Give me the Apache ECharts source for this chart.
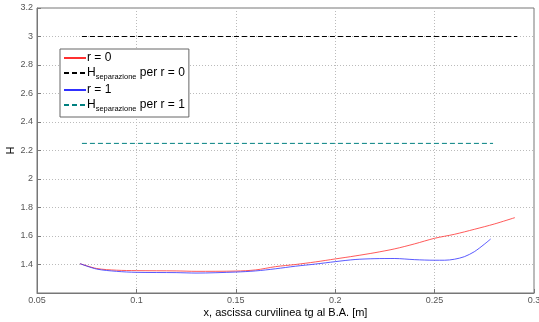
<!DOCTYPE html>
<html><head><meta charset="utf-8">
<script src="https://cdn.jsdelivr.net/npm/echarts@6/dist/echarts.min.js"></script>
<style>html,body{margin:0;padding:0;background:#fff}#c{width:539px;height:322px}</style>
</head><body><div id="c"></div>
<script>
// Data
const r0X = [0.0716,0.08,0.09,0.10,0.12,0.13,0.15,0.16,0.17,0.18,0.19,0.20,0.21,0.22,0.23,0.24,0.25,0.26,0.27,0.28,0.2904];
const r0Y = [1.406,1.372,1.360,1.357,1.355,1.352,1.354,1.362,1.385,1.400,1.418,1.439,1.460,1.483,1.510,1.545,1.584,1.612,1.647,1.684,1.729];
const r1X = [0.0716,0.08,0.09,0.10,0.12,0.13,0.15,0.16,0.17,0.18,0.19,0.20,0.21,0.22,0.23,0.24,0.25,0.255,0.26,0.265,0.27,0.275,0.2782];
const r1Y = [1.406,1.368,1.352,1.345,1.343,1.340,1.347,1.355,1.370,1.388,1.403,1.420,1.435,1.441,1.442,1.434,1.430,1.430,1.437,1.455,1.490,1.542,1.579];
const sep0X = [0.0726, 0.2915]; const sep0Y = [3.0, 3.0];
const sep1X = [0.0726, 0.2794]; const sep1Y = [2.25, 2.25];
const seriesNames = ['r = 0', 'Hsep0', 'r = 1', 'Hsep1'];
const xTicks = {min: 0.05, max: 0.3, interval: 0.05};
const yTicks = {min: 1.2, max: 3.2, interval: 0.2};

const zip = (a, b) => a.map((v, i) => [v, b[i]]);
const chart = echarts.init(document.getElementById('c'), null, {renderer: 'canvas'});
const font = 'Liberation Sans, Arial, sans-serif';
chart.setOption({
  animation: false,
  grid: {left: 37, right: 5, top: 8, bottom: 29, outerBoundsMode: 'none', containLabel: false, show: true, borderColor: '#777', borderWidth: 1},
  legend: {
    left: 60, top: 49, orient: 'vertical', itemGap: 3, itemWidth: 22, itemHeight: 14,
    padding: [3, 4, 4, 3], borderColor: '#666', borderWidth: 1, backgroundColor: '#fff',
    itemStyle: {opacity: 0},
    data: seriesNames,
    formatter: n => n === 'Hsep0' ? 'H{s|separazione} per r = 0' : n === 'Hsep1' ? 'H{s|separazione} per r = 1' : n,
    textStyle: {fontFamily: font, fontSize: 12, color: '#000', padding: [0, 0, 0, -4],
      rich: {s: {fontFamily: font, fontSize: 7.5, color: '#000', verticalAlign: 'bottom', padding: [8, 0, 0, 0]}}}
  },
  xAxis: {
    type: 'value', min: xTicks.min, max: xTicks.max, interval: xTicks.interval,
    name: 'x, ascissa curvilinea tg al B.A. [m]', nameLocation: 'middle', nameGap: 14, nameMoveOverlap: false,
    nameTextStyle: {fontFamily: font, fontSize: 11, color: '#000'},
    axisLine: {lineStyle: {color: '#777'}},
    axisTick: {inside: true, length: 4, lineStyle: {color: '#777'}},
    axisLabel: {fontFamily: font, fontSize: 9, color: '#555', margin: 3, formatter: v => String(+v.toFixed(2))},
    splitLine: {show: true, lineStyle: {color: '#bbb', type: [1, 2]}}
  },
  yAxis: {
    type: 'value', min: yTicks.min, max: yTicks.max, interval: yTicks.interval,
    name: 'H', nameLocation: 'middle', nameGap: 21, nameRotate: 90, nameMoveOverlap: false,
    nameTextStyle: {fontFamily: font, fontSize: 11, color: '#000'},
    axisLine: {show: true, lineStyle: {color: '#777'}},
    axisTick: {show: true, inside: true, length: 4, lineStyle: {color: '#777'}},
    axisLabel: {fontFamily: font, fontSize: 9, color: '#555', margin: 4, showMinLabel: false, formatter: v => String(+v.toFixed(1))},
    splitLine: {show: true, lineStyle: {color: '#bbb', type: [1, 2]}}
  },
  series: [
    {name: seriesNames[0], type: 'line', data: zip(r0X, r0Y), smooth: 0.3, symbol: 'none', lineStyle: {color: '#ff3030', width: 0.8}, itemStyle: {color: '#ff3030'}},
    {name: seriesNames[1], type: 'line', data: zip(sep0X, sep0Y), symbol: 'none', lineStyle: {color: '#000', width: 1, type: [5, 3]}, itemStyle: {color: '#000'}},
    {name: seriesNames[2], type: 'line', data: zip(r1X, r1Y), smooth: 0.3, symbol: 'none', lineStyle: {color: '#3030ff', width: 0.8}, itemStyle: {color: '#3030ff'}},
    {name: seriesNames[3], type: 'line', data: zip(sep1X, sep1Y), symbol: 'none', lineStyle: {color: '#008080', width: 1, type: [5, 3]}, itemStyle: {color: '#008080'}}
  ]
});
</script></body></html>
